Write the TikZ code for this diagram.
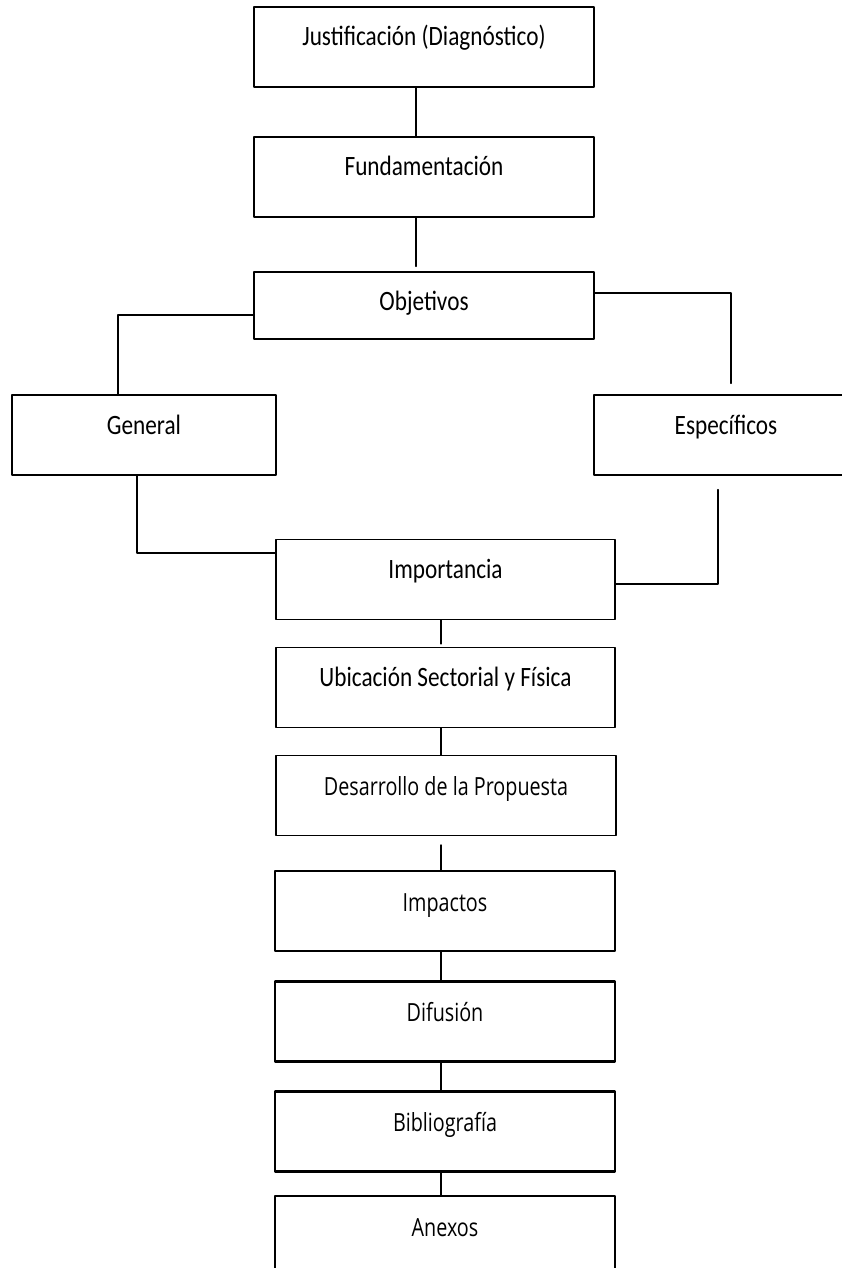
\documentclass[tikz,border=0pt]{standalone}
\usepackage{fontspec}
\setmainfont{Carlito}[FakeStretch=0.83]
\newfontfamily\opensans{Open Sans}[FakeStretch=0.79]
\usepackage{tikz}

\begin{document}
\begin{tikzpicture}[line cap=round,line join=round,x=1pt,y=-1pt,
  caja/.style={draw,rectangle,inner sep=0pt,line width=1.2pt,text height=39pt,text depth=41pt,font=\fontsize{28}{32}\selectfont},
  cajaos/.style={caja,text height=40pt,text depth=40pt,font=\opensans\fontsize{25}{29}\selectfont},
  cajab/.style={cajaos,line width=2.3pt},
  enlace/.style={line width=1.3pt},
  enlaceb/.style={line width=1.7pt}]
\useasboundingbox (0,0) rectangle (842,1268);
%\draw[red] (0,0) rectangle (842,1268);
\node[caja,minimum width=340pt] (justif) at (424,47) {Justificación (Diagnóstico)};
\node[caja,minimum width=340pt] (fundam) at (424,177) {Fundamentación};
\node[caja,minimum width=340pt,text height=38pt,text depth=29pt] (objet) at (424,305.5) {Objetivos};
\node[caja,minimum width=264pt] (general) at (144,435) {General};
\node[caja,minimum width=264pt] (especif) at (726,435) {Específicos};
\node[caja,minimum width=339pt] (importancia) at (445.5,579.5) {Importancia};
\node[caja,minimum width=339pt] (ubicacion) at (445.5,687.5) {Ubicación Sectorial y Física};
\node[cajaos,minimum width=340pt] (desarrollo) at (446,795.5) {Desarrollo de la Propuesta};
\node[cajab,minimum width=340pt] (impactos) at (445,911) {Impactos};
\node[cajab,minimum width=340pt] (difusion) at (445,1021.5) {Difusión};
\node[cajab,minimum width=340pt] (biblio) at (445,1131.5) {Bibliografía};
\node[cajab,minimum width=340pt] (anexos) at (445,1236) {Anexos};
% enlaces
\draw[enlace] ([xshift=-8pt]justif.south) -- ([xshift=-8pt]fundam.north);
\draw[enlace,shorten >=5pt] ([xshift=-8pt]fundam.south) -- ([xshift=-8pt]objet.north);
\draw[enlace] ([yshift=-9.5pt]objet.west) -| ([xshift=-26pt]general.north);
\draw[enlace,shorten >=11pt] ([yshift=12.5pt]objet.east) -| ([xshift=5pt]especif.north);
\draw[enlace] ([xshift=-7pt]general.south) |- ([yshift=26.5pt]importancia.west);
\draw[enlace,shorten <=14pt] ([xshift=-8pt]especif.south) |- ([yshift=-4.5pt]importancia.east);
\draw[enlace,shorten >=3pt] ([xshift=-4.5pt]importancia.south) -- ([xshift=-4.5pt]ubicacion.north);
\draw[enlace] ([xshift=-4.5pt]ubicacion.south) -- ([xshift=-5pt]desarrollo.north);
\draw[enlaceb,shorten <=9pt] ([xshift=-5pt]desarrollo.south) -- ([xshift=-4pt]impactos.north);
\draw[enlaceb] ([xshift=-4pt]impactos.south) -- ([xshift=-4pt]difusion.north);
\draw[enlaceb] ([xshift=-4pt]difusion.south) -- ([xshift=-4pt]biblio.north);
\draw[enlaceb] ([xshift=-4pt]biblio.south) -- ([xshift=-4pt]anexos.north);
\end{tikzpicture}
\end{document}
